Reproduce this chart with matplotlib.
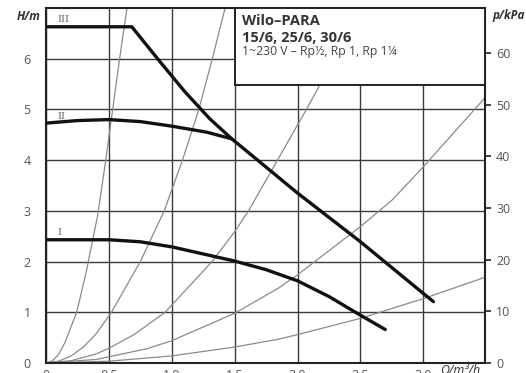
import matplotlib
matplotlib.use("Agg")
import matplotlib.pyplot as plt
from matplotlib.patches import Rectangle

plt.rcParams['font.family'] = ['Open Sans', 'DejaVu Sans']

# Pump curves (Q in m3/h, H in m)
q_III = [0.0, 0.682, 0.9, 1.1, 1.3, 1.477, 2.0, 2.5, 3.0, 3.08]
h_III = [6.63, 6.63, 5.96, 5.36, 4.82, 4.42, 3.35, 2.39, 1.37, 1.21]

q_II = [0.0, 0.25, 0.5, 0.75, 1.0, 1.28, 1.477]
h_II = [4.73, 4.78, 4.80, 4.76, 4.67, 4.55, 4.42]

q_I = [0.0, 0.5, 0.75, 1.0, 1.25, 1.5, 1.75, 2.0, 2.25, 2.46, 2.697]
h_I = [2.43, 2.43, 2.39, 2.29, 2.15, 2.01, 1.84, 1.62, 1.31, 1.0, 0.66]

# System (pipe) curves
q_s1 = [0.0, 0.05, 0.1, 0.15, 0.2, 0.244, 0.32, 0.41, 0.475, 0.53, 0.585, 0.644]
h_s1 = [0.0, 0.04, 0.17, 0.4, 0.72, 1.0, 1.8, 2.9, 4.0, 5.0, 6.0, 7.0]

q_s2 = [0.0, 0.1, 0.2, 0.3, 0.4, 0.52, 0.75, 0.94, 1.085, 1.215, 1.322, 1.424]
h_s2 = [0.0, 0.035, 0.14, 0.32, 0.58, 1.0, 2.0, 3.0, 4.0, 5.0, 6.0, 7.0]

q_s3 = [0.0, 0.2, 0.4, 0.5, 0.7, 0.947, 1.32, 1.5, 1.61, 1.84, 2.07, 2.17]
h_s3 = [0.0, 0.046, 0.18, 0.29, 0.56, 1.0, 2.0, 2.59, 3.0, 4.0, 5.0, 5.45]

q_s4 = [0.0, 0.4, 0.8, 1.0, 1.5, 1.85, 2.0, 2.5, 2.75, 3.0, 3.49]
h_s4 = [0.0, 0.07, 0.28, 0.44, 0.98, 1.48, 1.74, 2.69, 3.21, 3.87, 5.23]

q_s5 = [0.0, 0.5, 1.0, 1.5, 1.85, 2.0, 2.5, 3.0, 3.49]
h_s5 = [0.0, 0.035, 0.14, 0.315, 0.47, 0.56, 0.88, 1.27, 1.69]

x_ticks = [0, 0.5, 1.0, 1.5, 2.0, 2.5, 3.0]
x_ticklabels = ['0', '0.5', '1.0', '1.5', '2.0', '2.5', '3.0']
y_ticks = [0, 1, 2, 3, 4, 5, 6]
p_ticks = [0, 10, 20, 30, 40, 50, 60]

title1 = 'Wilo–PARA'
title2 = '15/6, 25/6, 30/6'
title3 = '1~230 V – Rp½, Rp 1, Rp 1¼'

W, H = 526, 373
fig = plt.figure(figsize=(W / 100, H / 100), dpi=100)
ax = fig.add_axes([46 / W, 10 / H, 439 / W, 355 / H])

xmax, ymax = 3.49, 7.0
ax.set_xlim(0, xmax)
ax.set_ylim(0, ymax)

gray_txt = '#555555'
ax.set_xticks(x_ticks)
ax.set_xticklabels(x_ticklabels)
ax.set_yticks(y_ticks)
ax.tick_params(axis='both', length=0, labelsize=9, colors=gray_txt)
ax.tick_params(axis='y', pad=11)
ax.tick_params(axis='x', pad=4)
ax.grid(True, color='#3a3a3a', linewidth=1.0)
ax.set_axisbelow(True)
for s in ax.spines.values():
    s.set_linewidth(1.5)
    s.set_color('#222222')

sys_kw = dict(color='#8a8a8a', linewidth=0.9, zorder=2)
for qs, hs in [(q_s1, h_s1), (q_s2, h_s2), (q_s3, h_s3), (q_s4, h_s4), (q_s5, h_s5)]:
    ax.plot(qs, hs, **sys_kw)

pump_kw = dict(color='#111111', linewidth=2.4, zorder=4, solid_capstyle='round',
               solid_joinstyle='round')
ax.plot(q_III, h_III, **pump_kw)
ax.plot(q_II, h_II, **pump_kw)
ax.plot(q_I, h_I, **pump_kw)

ax.text(0.09, 6.78, 'III', fontsize=7, color='#666666', va='center', ha='left', family='DejaVu Serif', zorder=5)
ax.text(0.09, 4.86, 'II', fontsize=7, color='#666666', va='center', ha='left', family='DejaVu Serif', zorder=5)
ax.text(0.09, 2.57, 'I', fontsize=7, color='#666666', va='center', ha='left', family='DejaVu Serif', zorder=5)

# info box
ax.add_patch(Rectangle((1.5, 5.48), xmax - 1.5, ymax - 5.48, facecolor='white',
                       edgecolor='#222222', linewidth=1.4, zorder=6, clip_on=False))
ax.text(1.555, 6.74, title1, fontsize=10.5, fontweight='bold', color='#333333', va='center', ha='left', zorder=7)
ax.text(1.555, 6.40, title2, fontsize=10.5, fontweight='bold', color='#333333', va='center', ha='left', zorder=7)
ax.text(1.555, 6.15, title3, fontsize=8.8, color='#444444', va='center', ha='left', zorder=7)

# right axis kPa
ax2 = ax.twinx()
ax2.set_ylim(0, ymax * 9.81)
ax2.set_yticks(p_ticks)
ax2.tick_params(axis='y', length=4, width=1.2, labelsize=9, colors=gray_txt, pad=4)
ax2.tick_params(axis='y', color='#222222')
for s in ax2.spines.values():
    s.set_visible(False)

fig.text(17 / W, 1 - 17 / H, 'H/m', fontsize=8.5, fontweight='bold', style='italic', color='#333333', va='center', ha='left')
fig.text(492 / W, 1 - 16 / H, 'p/kPa', fontsize=8.5, fontweight='bold', style='italic', color='#333333', va='center', ha='left')
fig.text(440 / W, 1 - 371 / H, 'Q/m³/h', fontsize=9, style='italic', color='#333333', va='center', ha='left')

fig.savefig('out.png', dpi=100)
